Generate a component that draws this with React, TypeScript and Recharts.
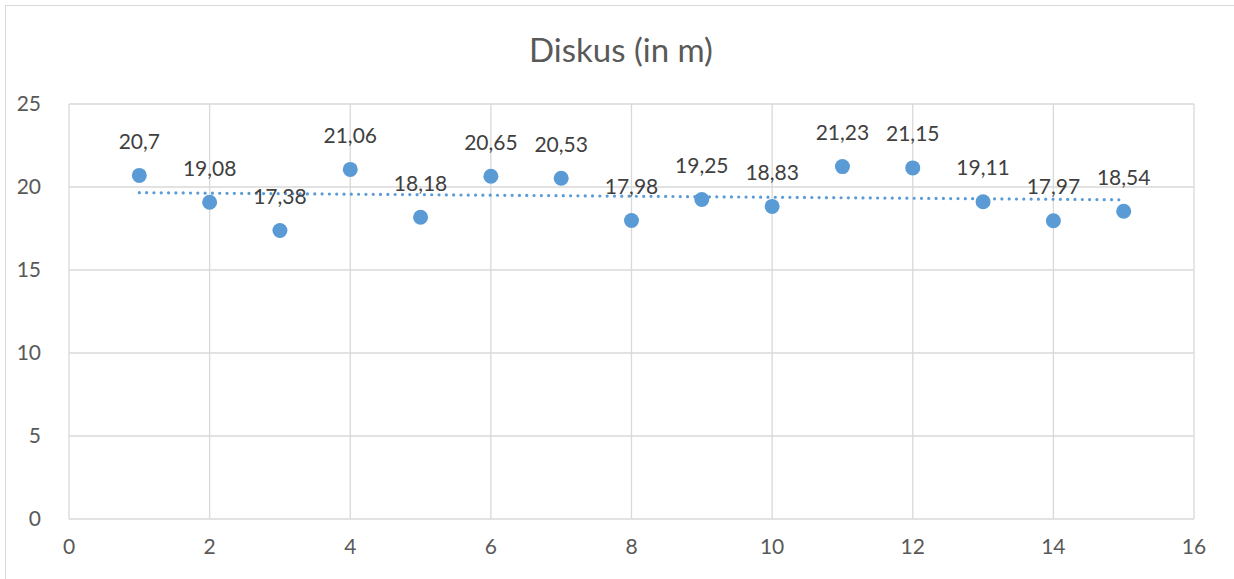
import { ScatterChart, Scatter, XAxis, YAxis, CartesianGrid, LabelList, ReferenceLine } from "recharts";

const attempts = [1, 2, 3, 4, 5, 6, 7, 8, 9, 10, 11, 12, 13, 14, 15];
const distances = [20.7, 19.08, 17.38, 21.06, 18.18, 20.65, 20.53, 17.98, 19.25, 18.83, 21.23, 21.15, 19.11, 17.97, 18.54];
const trendEnds = [
  { x: 1, y: 19.66 },
  { x: 15, y: 19.23 },
];
const xTicks = [0, 2, 4, 6, 8, 10, 12, 14, 16];
const yTicks = [0, 5, 10, 15, 20, 25];

const points = attempts.map((x, i) => ({ x, y: distances[i] }));

const FONT = "Lato, 'Open Sans', sans-serif";
const BLUE = "#5B9BD5";

const formatComma = (v: number) => String(v).replace(".", ",");

export default function App() {
  return (
    <div
      style={{
        position: "absolute",
        left: 0,
        top: 0,
        width: 1234,
        height: 579,
        overflow: "hidden",
        background: "#fff",
        fontFamily: FONT,
      }}
    >
      <div
        style={{
          position: "absolute",
          left: 5,
          top: 5,
          width: 1260,
          height: 620,
          border: "1px solid #D9D9D9",
        }}
      />
      <div
        style={{
          position: "absolute",
          left: 0,
          top: 29,
          width: 1242,
          textAlign: "center",
          fontSize: 33,
          color: "#595959",
        }}
      >
        Diskus (in m)
      </div>
      <div style={{ position: "absolute", left: 0, top: 0 }}>
        <ScatterChart width={1234} height={579} margin={{ top: 104, right: 40, bottom: 0, left: 0 }}>
          <CartesianGrid stroke="#D9D9D9" strokeWidth={1.3} horizontalValues={yTicks} verticalValues={xTicks} />
          <XAxis
            type="number"
            dataKey="x"
            domain={[0, 16]}
            ticks={xTicks}
            axisLine={false}
            tickLine={false}
            tickMargin={14}
            height={60}
            tick={{ fill: "#595959", fontSize: 21, fontFamily: FONT }}
          />
          <YAxis
            type="number"
            dataKey="y"
            domain={[0, 25]}
            ticks={yTicks}
            axisLine={false}
            tickLine={false}
            tickMargin={22}
            width={69}
            tick={{ fill: "#595959", fontSize: 21, fontFamily: FONT }}
          />
          <ReferenceLine
            segment={trendEnds}
            stroke={BLUE}
            strokeWidth={3.2}
            strokeDasharray="0.01 7.3"
            strokeLinecap="round"
            ifOverflow="visible"
          />
          <Scatter data={points} fill={BLUE} isAnimationActive={false} shape={(p: any) => <circle cx={p.cx} cy={p.cy} r={7.5} fill={BLUE} />}>
            <LabelList
              dataKey="y"
              position="top"
              offset={22}
              formatter={(v: any) => formatComma(v)}
              style={{ fill: "#404040", fontSize: 21, fontFamily: FONT }}
            />
          </Scatter>
        </ScatterChart>
      </div>
    </div>
  );
}
